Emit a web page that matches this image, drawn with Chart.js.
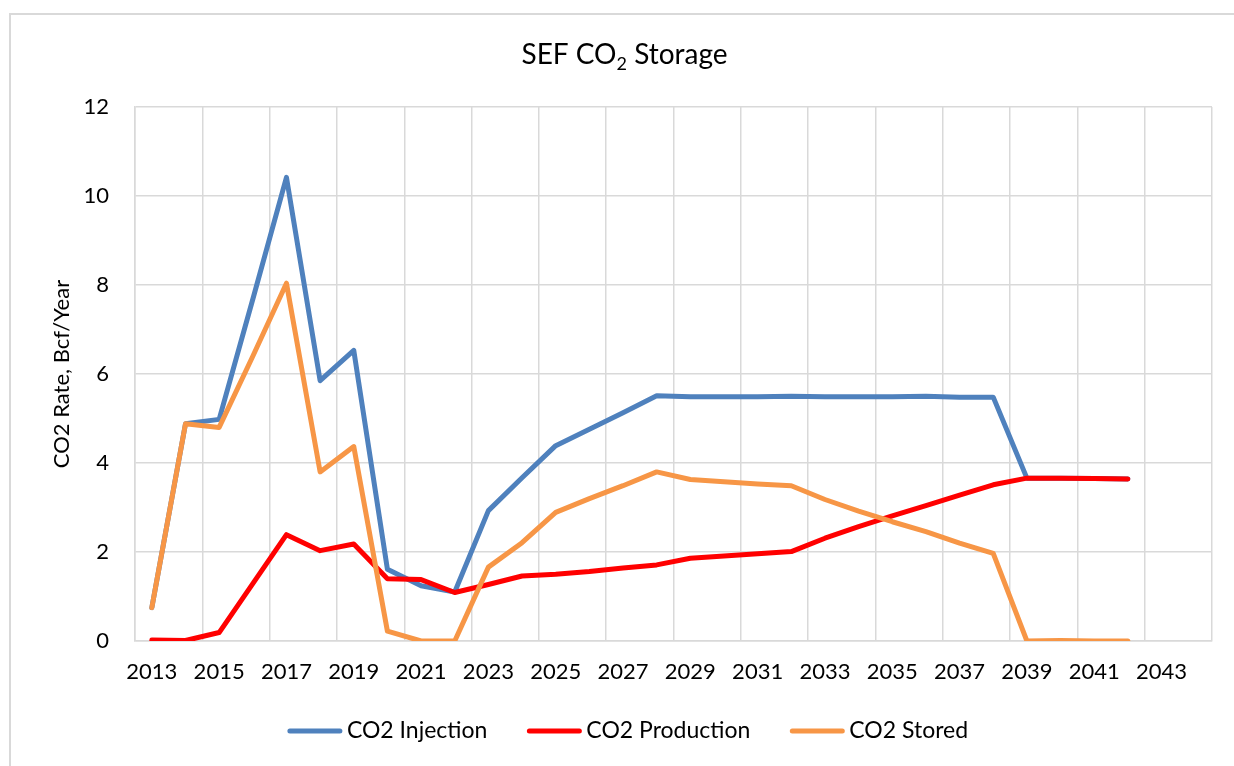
<!DOCTYPE html>
<html><head><meta charset="utf-8">
<script src="https://cdn.jsdelivr.net/npm/chart.js@4.4.0/dist/chart.umd.min.js"></script>
<style>html,body{margin:0;padding:0;background:#fff;}canvas{display:block;}</style>
</head><body>
<canvas id="c" width="1234" height="766"></canvas>
<script>
// ---- data ----
const years = ['2013','2014','2015','2016','2017','2018','2019','2020','2021','2022','2023','2024','2025','2026','2027','2028','2029','2030','2031','2032','2033','2034','2035','2036','2037','2038','2039','2040','2041','2042','2043','2044'];
const xTickLabels = ['2013','2015','2017','2019','2021','2023','2025','2027','2029','2031','2033','2035','2037','2039','2041','2043'];
const yTicks = [0, 2, 4, 6, 8, 10, 12];
const seriesNames = ['CO2 Injection', 'CO2 Production', 'CO2 Stored'];
const injection  = [0.75,4.88,4.98,7.68,10.42,5.85,6.53,1.61,1.24,1.10,2.93,3.67,4.39,4.76,5.13,5.51,5.49,5.49,5.49,5.50,5.49,5.49,5.49,5.50,5.48,5.48,3.66,3.66,3.65,3.64,null,null];
const production = [0.02,0.01,0.19,1.29,2.39,2.03,2.18,1.40,1.38,1.09,1.27,1.46,1.50,1.56,1.64,1.71,1.86,1.91,1.96,2.01,2.31,2.57,2.81,3.04,3.28,3.51,3.66,3.66,3.65,3.64,null,null];
const stored     = [0.75,4.88,4.80,6.40,8.04,3.80,4.37,0.22,0.00,0.00,1.66,2.21,2.89,3.20,3.49,3.80,3.63,3.58,3.53,3.49,3.18,2.92,2.68,2.46,2.20,1.97,0.00,0.01,0.00,0.00,null,null];
const titleParts = ['SEF CO', '2', ' Storage'];
const yTitle = 'CO2 Rate, Bcf/Year';

const FONT = 'Lato';
const GRID = '#d9d9d9';
const colors = ['#4f81bd', '#ff0000', '#f79646'];

const framePlugin = {
  id: 'frame',
  beforeDraw(chart) {
    const ctx = chart.ctx;
    ctx.save();
    ctx.strokeStyle = GRID; ctx.lineWidth = 2;
    ctx.beginPath(); ctx.moveTo(10, 766); ctx.lineTo(10, 14); ctx.lineTo(1234, 14); ctx.stroke();
    ctx.restore();
  }
};

const titlePlugin = {
  id: 'customTitle',
  afterDraw(chart) {
    const ctx = chart.ctx;
    ctx.save();
    ctx.fillStyle = '#000';
    ctx.textBaseline = 'alphabetic';
    const big = '28px ' + FONT, small = '18px ' + FONT;
    ctx.font = big; const w1 = ctx.measureText(titleParts[0]).width; const w3 = ctx.measureText(titleParts[2]).width;
    ctx.font = small; const w2 = ctx.measureText(titleParts[1]).width;
    let x = 624.5 - (w1 + w2 + w3) / 2; const y = 64;
    ctx.textAlign = 'left';
    ctx.font = big; ctx.fillText(titleParts[0], x, y); x += w1;
    ctx.font = small; ctx.fillText(titleParts[1], x, y + 6); x += w2;
    ctx.font = big; ctx.fillText(titleParts[2], x, y);
    ctx.restore();
  }
};

const legendPlugin = {
  id: 'customLegend',
  afterDraw(chart) {
    const ctx = chart.ctx;
    ctx.save();
    ctx.font = '23px ' + FONT;
    const lineLen = 54, gapText = 5, gapItem = 40;
    const ds = chart.data.datasets;
    const widths = ds.map(d => lineLen + gapText + ctx.measureText(d.label).width);
    const total = widths.reduce((a, b) => a + b, 0) + gapItem * (ds.length - 1);
    let x = 628 - total / 2; const y = 731;
    ds.forEach((d, i) => {
      ctx.strokeStyle = d.borderColor; ctx.lineWidth = 5; ctx.lineCap = 'round';
      ctx.beginPath(); ctx.moveTo(x + 2, y); ctx.lineTo(x + lineLen - 2, y); ctx.stroke();
      ctx.fillStyle = '#000'; ctx.textBaseline = 'middle'; ctx.textAlign = 'left';
      ctx.fillText(d.label, x + lineLen + gapText, y);
      x += widths[i] + gapItem;
    });
    ctx.restore();
  }
};

const mk = (i, data, order) => ({
  label: seriesNames[i], data, borderColor: colors[i], backgroundColor: colors[i],
  borderWidth: 5, pointRadius: 0, tension: 0, borderCapStyle: 'round', borderJoinStyle: 'round', order, fill: false
});

new Chart(document.getElementById('c'), {
  type: 'line',
  data: { labels: years, datasets: [mk(0, injection, 2), mk(1, production, 1), mk(2, stored, 0)] },
  options: {
    responsive: false, animation: false, devicePixelRatio: 1,
    layout: { padding: { top: 107, right: 22, bottom: 75, left: 0 } },
    plugins: { legend: { display: false }, title: { display: false }, tooltip: { enabled: false } },
    scales: {
      x: {
        type: 'category', offset: true,
        grid: { offset: true, drawTicks: false, lineWidth: 1.5,
          color: c => (c.type !== 'tick' || c.index % 2 === 0) ? GRID : 'rgba(0,0,0,0)' },
        border: { color: GRID, width: 1.5 },
        ticks: { autoSkip: false, maxRotation: 0, minRotation: 0, padding: 18, color: '#000',
          font: { family: FONT, size: 22 },
          callback: function (v) { const l = this.getLabelForValue(v); return xTickLabels.includes(l) ? l : ''; } },
        afterFit: s => { s.height = 50; }
      },
      y: {
        min: yTicks[0], max: yTicks[yTicks.length - 1],
        grid: { color: GRID, drawTicks: false, lineWidth: 1.5 },
        border: { color: GRID, width: 1.5 },
        ticks: { stepSize: 2, padding: 26, color: '#000', font: { family: FONT, size: 22 } },
        title: { display: true, text: yTitle, color: '#000', font: { family: FONT, size: 22 }, padding: { top: 49, bottom: 0 } },
        afterFit: s => { s.width = 135; }
      }
    }
  },
  plugins: [framePlugin, titlePlugin, legendPlugin]
});
</script>
</body></html>
